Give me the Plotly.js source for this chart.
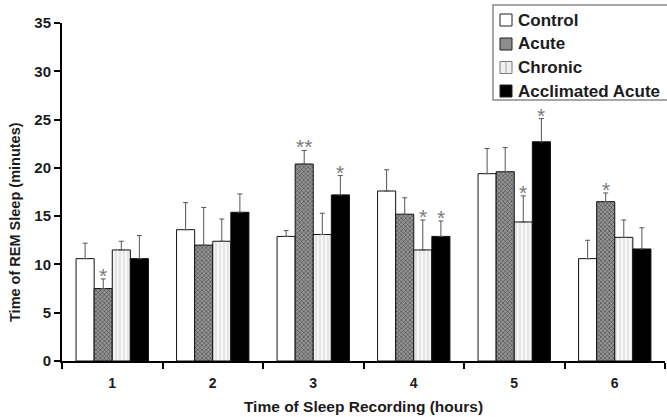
<!DOCTYPE html>
<html>
<head>
<meta charset="utf-8">
<script src="https://cdn.plot.ly/plotly-3.0.1.min.js"></script>
<style>html,body{margin:0;padding:0;background:#fff;}#chart{width:667px;height:417px;}</style>
</head>
<body>
<div id="chart"></div>
<script>
// ---- data ----
const hours = [1, 2, 3, 4, 5, 6];
const hourLabels = ['1', '2', '3', '4', '5', '6'];
const seriesNames = ['Control', 'Acute', 'Chronic', 'Acclimated Acute'];

const control    = [10.6, 13.6, 12.9, 17.6, 19.4, 10.6];
const controlErr = [1.6, 2.8, 0.6, 2.2, 2.6, 1.9];
const acute      = [7.5, 12.0, 20.4, 15.2, 19.6, 16.5];
const acuteErr   = [1.0, 3.9, 1.4, 1.7, 2.5, 0.9];
const chronic    = [11.5, 12.4, 13.1, 11.5, 14.4, 12.8];
const chronicErr = [0.9, 2.3, 2.2, 3.1, 2.7, 1.8];
const acclim     = [10.6, 15.4, 17.2, 12.9, 22.7, 11.6];
const acclimErr  = [2.4, 1.9, 2.0, 1.6, 2.4, 2.2];

const controlSig = ['', '', '', '', '', ''];
const acuteSig   = ['*', '', '**', '', '', '*'];
const chronicSig = ['', '', '', '*', '*', ''];
const acclimSig  = ['', '', '*', '*', '*', ''];

// ---- style ----
const FONT = '"Liberation Sans", Arial, sans-serif';
const TXT = '#1c1c1c';
const BARGAP = 0.28;
const nSeries = 4;
const barW = (1 - BARGAP) / nSeries;
const W = 667, H = 417;
const M = {l: 62, r: 2, t: 23, b: 56};
const plotW = W - M.l - M.r, plotH = H - M.t - M.b;
const px = (x) => (x - M.l) / plotW;          // pixel -> paper x
const py = (y) => (H - M.b - y) / plotH;      // pixel -> paper y

const styles = [
  {color: '#ffffff', swatch: '#ffffff'},
  {color: '#8a8a8a', swatch: '#8c8c8c', pattern: {shape: 'x', fgcolor: '#333333', bgcolor: '#959595', size: 3, solidity: 0.3}},
  {color: '#ececec', swatch: '#efefef', pattern: {shape: '|', fgcolor: '#d6d6d6', bgcolor: '#f5f5f5', size: 4, solidity: 0.25}},
  {color: '#000000', swatch: '#000000'}
];

const values = [control, acute, chronic, acclim];
const errs = [controlErr, acuteErr, chronicErr, acclimErr];
const sigs = [controlSig, acuteSig, chronicSig, acclimSig];

const traces = values.map((v, i) => {
  const marker = {color: styles[i].color, line: {color: '#111', width: 1}};
  if (styles[i].pattern) marker.pattern = styles[i].pattern;
  return {
    type: 'bar',
    name: seriesNames[i],
    x: hours,
    y: v,
    marker: marker,
    error_y: {
      type: 'data', symmetric: false,
      array: errs[i], arrayminus: v.map(() => 0),
      color: '#555', thickness: 1, width: 2.5
    },
    hoverinfo: 'none',
    showlegend: false
  };
});

const annotations = [];
sigs.forEach((s, i) => {
  s.forEach((t, j) => {
    if (!t) return;
    annotations.push({
      x: hours[j] + (i - (nSeries - 1) / 2) * barW,
      y: values[i][j] + errs[i][j],
      xref: 'x', yref: 'y',
      text: t, showarrow: false,
      yanchor: 'bottom', yshift: -10,
      font: {family: FONT, size: 21, color: '#7a7a7a'}
    });
  });
});

annotations.push({
  xref: 'paper', yref: 'paper', x: -0.077, y: 0.41,
  xanchor: 'center', yanchor: 'middle',
  text: 'Time of REM Sleep (minutes)', textangle: -90, showarrow: false,
  font: {family: FONT, size: 14.5, color: TXT, weight: 'bold'}
});

// ---- custom legend (box, swatches, labels) ----
const shapes = [];
const LEG = {left: 493, top: 5, right: 675, bottom: 100, rowY: [20, 44, 67.5, 91], sw: 12, swX: 500, txtX: 516};
shapes.push({type: 'rect', xref: 'paper', yref: 'paper', layer: 'above',
  x0: px(LEG.left), x1: px(LEG.right), y0: py(LEG.bottom), y1: py(LEG.top),
  fillcolor: '#ffffff', line: {color: '#8a8a8a', width: 1.5}});
seriesNames.forEach((name, i) => {
  const cy = LEG.rowY[i];
  shapes.push({type: 'rect', xref: 'paper', yref: 'paper', layer: 'above',
    x0: px(LEG.swX), x1: px(LEG.swX + LEG.sw), y0: py(cy + LEG.sw / 2), y1: py(cy - LEG.sw / 2),
    fillcolor: styles[i].swatch, line: {color: i === 2 ? '#777' : '#222', width: 1}});
  if (i === 2) {
    shapes.push({type: 'line', xref: 'paper', yref: 'paper', layer: 'above',
      x0: px(LEG.swX + LEG.sw / 2), x1: px(LEG.swX + LEG.sw / 2),
      y0: py(cy + LEG.sw / 2), y1: py(cy - LEG.sw / 2),
      line: {color: '#aaa', width: 1}});
  }
  annotations.push({xref: 'paper', yref: 'paper', x: px(LEG.txtX), y: py(cy),
    xanchor: 'left', yanchor: 'middle', showarrow: false, text: name,
    font: {family: FONT, size: 17, color: TXT, weight: 'bold'}});
});

const layout = {
  width: W, height: H,
  margin: M,
  paper_bgcolor: '#fff', plot_bgcolor: '#fff',
  barmode: 'group', bargap: BARGAP, bargroupgap: 0,
  font: {family: FONT, color: TXT},
  showlegend: false,
  xaxis: {
    range: [0.5, 6.5],
    tickmode: 'array', tickvals: hours, ticktext: hourLabels,
    ticks: 'outside', ticklen: 8, tickcolor: 'rgba(0,0,0,0)',
    tickfont: {family: FONT, size: 14, color: TXT, weight: 'bold'},
    minor: {tick0: 0.5, dtick: 1, ticks: 'outside', ticklen: 6, tickwidth: 2, tickcolor: '#000', showgrid: false},
    showline: true, linecolor: '#000', linewidth: 2,
    showgrid: false, zeroline: false,
    title: {text: 'Time of Sleep Recording (hours)', standoff: 11,
            font: {family: FONT, size: 15.5, color: TXT, weight: 'bold'}}
  },
  yaxis: {
    range: [0, 35], tick0: 0, dtick: 5,
    ticks: 'outside', ticklen: 6, tickwidth: 2, tickcolor: '#000',
    tickfont: {family: FONT, size: 15, color: TXT, weight: 'bold'},
    showline: true, linecolor: '#000', linewidth: 2,
    showgrid: false, zeroline: false
  },
  shapes: shapes,
  annotations: annotations
};

Plotly.newPlot('chart', traces, layout, {displayModeBar: false, staticPlot: true});
</script>
</body>
</html>
